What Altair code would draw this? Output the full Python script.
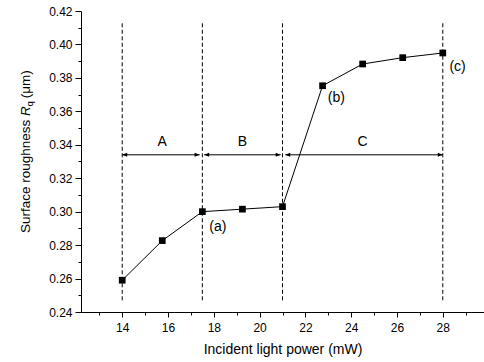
import altair as alt
import pandas as pd

# ---- data ----
power = [14, 15.75, 17.5, 19.25, 21, 22.75, 24.5, 26.25, 28]
roughness = [0.259, 0.2827, 0.300, 0.3015, 0.303, 0.3753, 0.3883, 0.3921, 0.3949]

boundaries = [14, 17.5, 21, 28]
dash_bottom = 0.247
dash_top = 0.413

region_names = ["A", "B", "C"]
region_start = [14.0, 17.58, 21.12]
region_end = [17.38, 20.92, 28.0]
region_mid = [15.75, 19.25, 24.5]
arrow_level = 0.334
region_label_level = 0.3418

point_labels = ["(a)", "(b)", "(c)"]
point_label_x = [17.8, 22.98, 28.29]
point_label_y = [0.291, 0.3678, 0.3867]

x_ticks = list(range(13, 30))
y_ticks = [round(0.24 + 0.01 * i, 2) for i in range(19)]

FONT = "Liberation Sans"

# ---- tables ----
series = pd.DataFrame({"power": power, "rq": roughness})
bounds = pd.DataFrame({"x": boundaries, "y1": [dash_bottom] * len(boundaries),
                       "y2": [dash_top] * len(boundaries)})
regions = pd.DataFrame({"name": region_names, "start": region_start, "end": region_end,
                        "mid": region_mid, "lvl": [arrow_level] * 3,
                        "lab": [region_label_level] * 3})
plabels = pd.DataFrame({"t": point_labels, "x": point_label_x, "y": point_label_y})
one = pd.DataFrame({"k": [0]})

xscale = alt.Scale(domain=[12.2, 29.8], nice=False, zero=False)
yscale = alt.Scale(domain=[0.24, 0.42], nice=False, zero=False)

xaxis = alt.Axis(
    values=x_ticks, format="d",
    labelExpr="datum.value % 2 == 0 ? datum.label : ''",
    tickSize={"condition": {"test": "datum.value % 2 == 0", "value": 5}, "value": 3},
    labelOverlap=False, labelPadding=5, labelFontSize=12,
    title="Incident light power (mW)", titleFontSize=14, titleFontWeight="normal",
    titlePadding=9, grid=False,
)
yaxis = alt.Axis(
    values=y_ticks, format=".2f",
    labelExpr="round(datum.value * 100) % 2 == 0 ? datum.label : ''",
    tickSize={"condition": {"test": "round(datum.value * 100) % 2 == 0", "value": 6}, "value": 3},
    labelOverlap=False, labelPadding=3, labelFontSize=12, title=None, grid=False,
)


def X(field):
    return alt.X(f"{field}:Q", scale=xscale, axis=xaxis)


def Y(field):
    return alt.Y(f"{field}:Q", scale=yscale, axis=yaxis)


dashes = alt.Chart(bounds).mark_rule(color="black", strokeWidth=1, strokeDash=[4, 2.5]).encode(
    x=X("x"), y=Y("y1"), y2="y2")

line = alt.Chart(series).mark_line(color="black", strokeWidth=1).encode(x=X("power"), y=Y("rq"))
squares = alt.Chart(series).mark_square(color="black", size=45, opacity=1).encode(
    x=X("power"), y=Y("rq"))

arrow_line = alt.Chart(regions).mark_rule(color="black", strokeWidth=1).encode(
    x=X("start"), x2="end", y=Y("lvl"))
head_left = alt.Chart(regions).mark_point(
    shape="M 0 0 L 1 -0.4 L 1 0.4 Z", filled=True, color="black", size=100, opacity=1
).encode(x=X("start"), y=Y("lvl"))
head_right = alt.Chart(regions).mark_point(
    shape="M 0 0 L -1 -0.4 L -1 0.4 Z", filled=True, color="black", size=100, opacity=1
).encode(x=X("end"), y=Y("lvl"))
region_text = alt.Chart(regions).mark_text(
    font=FONT, fontSize=14, color="black", baseline="middle", align="center"
).encode(x=X("mid"), y=Y("lab"), text="name:N")

point_text = alt.Chart(plabels).mark_text(
    font=FONT, fontSize=14, color="black", baseline="middle", align="left"
).encode(x=X("x"), y=Y("y"), text="t:N")

# y-axis title built from pieces (italic R, subscript q)
TS = 13.5
title_x = -51
title_y0 = 222
w1 = 8.671 * TS
w2 = 0.722 * TS
w3 = 0.556 * 9 + 3
t1 = alt.Chart(one).mark_text(font=FONT, fontSize=TS, angle=270, align="left",
                              baseline="alphabetic", color="black", text="Surface roughness").encode(
    x=alt.value(title_x), y=alt.value(title_y0))
t2 = alt.Chart(one).mark_text(font=FONT, fontSize=TS, fontStyle="italic", angle=270, align="left",
                              baseline="alphabetic", color="black", text="R").encode(
    x=alt.value(title_x), y=alt.value(title_y0 - w1))
t3 = alt.Chart(one).mark_text(font=FONT, fontSize=9, angle=270, align="left",
                              baseline="alphabetic", color="black", text="q").encode(
    x=alt.value(title_x + 3), y=alt.value(title_y0 - w1 - w2))
t4 = alt.Chart(one).mark_text(font=FONT, fontSize=TS, angle=270, align="left",
                              baseline="alphabetic", color="black", text="(\u03bcm)").encode(
    x=alt.value(title_x), y=alt.value(title_y0 - w1 - w2 - w3))

chart = alt.layer(
    dashes, line, squares, arrow_line, head_left, head_right, region_text, point_text,
    t1, t2, t3, t4,
).properties(
    width=403, height=301,
    autosize=alt.AutoSizeParams(type="none"),
    padding={"left": 81, "top": 11, "right": 0, "bottom": 50},
    background="white",
).configure_view(stroke=None).configure_axis(
    domainColor="black", tickColor="black", labelColor="black", titleColor="black",
    labelFont=FONT, titleFont=FONT, domainWidth=1, tickWidth=1,
)

chart.save("out.html", embed_options={"renderer": "svg", "actions": False})
